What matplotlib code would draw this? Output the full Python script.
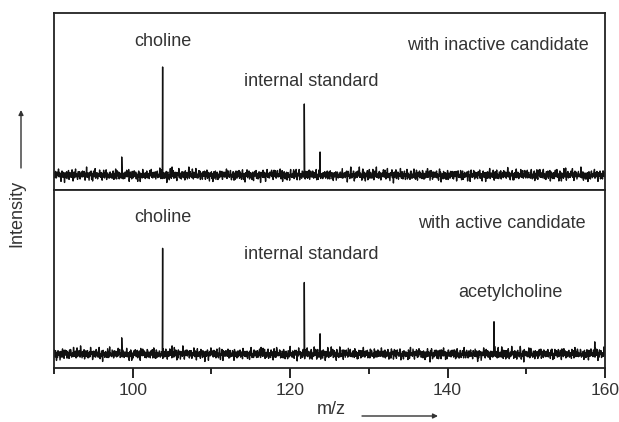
import numpy as np
import matplotlib
matplotlib.use('Agg')
import matplotlib.pyplot as plt

plt.rcParams['font.family'] = ['Liberation Sans', 'DejaVu Sans']

# peak positions (m/z) and heights above baseline
top_peaks_mz = [98.6, 103.8, 105.0, 121.8, 123.8, 155.0]
top_peaks_h = [18, 108, 8, 71, 23, 7]
bottom_peaks_mz = [98.6, 103.8, 105.0, 121.8, 123.8, 145.9, 158.7]
bottom_peaks_h = [16, 105, 8, 71, 20, 32, 12]

top_baseline = 15
bottom_baseline = 14

# hand-typed baseline noise pattern and a second amplitude pattern
noise_pattern = [2, -3, 1, 4, -2, -4, 3, 0, -1, 5, -3, 2, -2, 1, -4, 3, 4, -1, -3, 2,
                 0, -5, 3, 1, -2, 4, -3, -1, 2, 5, -4, 0, 3, -2, 1, -3, 4, -1, -4, 2,
                 3, -2, 0, 5, -3, 1, -1, -4, 2, 4, -2, 3, -5, 1, 0, 2, -3, 4, -1, -2,
                 3, 1, -4, 2, -1, 5, -3, 0, 2, -2, -4, 3, 1, -1, 4, -3, 2, -5, 0, 3,
                 -2, 1, 4, -4, -1, 2, 3, -3, 0, 1, -2, 5, -1, -3, 2, 4, -4, 1, -2, 3,
                 0, -3, 2, -1, 4, -5, 1, 3, -2, 0, -4, 2, 5, -1, -3, 1, -2, 3, 4, -4]
amp_pattern = [1.1, 0.8, 1.3, 0.9, 1.5, 0.7, 1.0, 1.4, 0.8, 1.2, 0.6, 1.3, 0.9,
               1.1, 1.6, 0.8, 1.0]


def spectrum(noise, baseline, peaks_mz, peaks_h):
    noise = np.asarray(noise, dtype=float)
    x = np.linspace(90, 160, len(noise))
    y = baseline + noise
    # insert sharp peaks as narrow triangles
    px, py = [], []
    for m, h in zip(peaks_mz, peaks_h):
        px += [m - 0.05, m, m + 0.05]
        py += [baseline, baseline + h, baseline]
    xs = np.concatenate([x, px])
    ys = np.concatenate([y, py])
    order = np.argsort(xs)
    return xs[order], ys[order]


n_pts = 1100
noise_top = np.resize(noise_pattern, n_pts) * np.resize(amp_pattern, n_pts)
noise_bottom = (np.resize(noise_pattern[::-1], n_pts + 37)[37:]
                * np.resize(amp_pattern[::-1], n_pts))

fig = plt.figure(figsize=(6.19, 4.22), dpi=100)
ax1 = fig.add_axes([54 / 619, (422 - 190) / 422, 551 / 619, 177 / 422])
ax2 = fig.add_axes([54 / 619, (422 - 368) / 422, 551 / 619, 178 / 422])

x1, y1 = spectrum(noise_top, top_baseline, top_peaks_mz, top_peaks_h)
x2, y2 = spectrum(noise_bottom, bottom_baseline, bottom_peaks_mz, bottom_peaks_h)

ax1.plot(x1, y1, color='#111111', linewidth=1.0)
ax2.plot(x2, y2, color='#111111', linewidth=1.0)

for ax in (ax1, ax2):
    ax.set_xlim(90, 160)
    ax.set_ylim(0, 177)
    ax.set_yticks([])
    for s in ax.spines.values():
        s.set_linewidth(1.3)
        s.set_color('#222222')

ax1.set_xticks([])
ax2.set_xticks([100, 120, 140, 160])
ax2.set_xticks([90, 110, 130, 150], minor=True)
ax2.tick_params(axis='x', which='major', length=7, width=1.2, labelsize=12.5, pad=4,
                labelcolor='#333333')
ax2.tick_params(axis='x', which='minor', length=4, width=1.2)

fs = 13
tc = '#333333'
ax1.text(103.8, 149, 'choline', ha='center', va='center', fontsize=fs, color=tc)
ax1.text(122.7, 109, 'internal standard', ha='center', va='center', fontsize=fs, color=tc)
ax1.text(158.0, 145, 'with inactive candidate', ha='right', va='center', fontsize=fs, color=tc)

ax2.text(103.8, 150, 'choline', ha='center', va='center', fontsize=fs, color=tc)
ax2.text(122.7, 113, 'internal standard', ha='center', va='center', fontsize=fs, color=tc)
ax2.text(157.6, 144, 'with active candidate', ha='right', va='center', fontsize=fs, color=tc)
ax2.text(148.0, 75, 'acetylcholine', ha='center', va='center', fontsize=fs, color=tc)

# axis titles with arrows
fig.text(17 / 619, 1 - 213 / 422, 'Intensity', rotation=90, ha='center', va='center',
         fontsize=fs, color=tc)
fig.text(331 / 619, 1 - 410 / 422, 'm/z', ha='center', va='center', fontsize=fs, color=tc)
ax2.annotate('', xy=(21 / 619, 1 - 110 / 422), xytext=(21 / 619, 1 - 168 / 422),
             xycoords='figure fraction', textcoords='figure fraction',
             arrowprops=dict(arrowstyle='-|>', color='#333333', lw=1.0,
                             mutation_scale=7, shrinkA=0, shrinkB=0))
ax2.annotate('', xy=(438 / 619, 1 - 416 / 422), xytext=(362 / 619, 1 - 416 / 422),
             xycoords='figure fraction', textcoords='figure fraction',
             arrowprops=dict(arrowstyle='-|>', color='#333333', lw=1.0,
                             mutation_scale=7, shrinkA=0, shrinkB=0))

fig.savefig('out.png', dpi=100)
